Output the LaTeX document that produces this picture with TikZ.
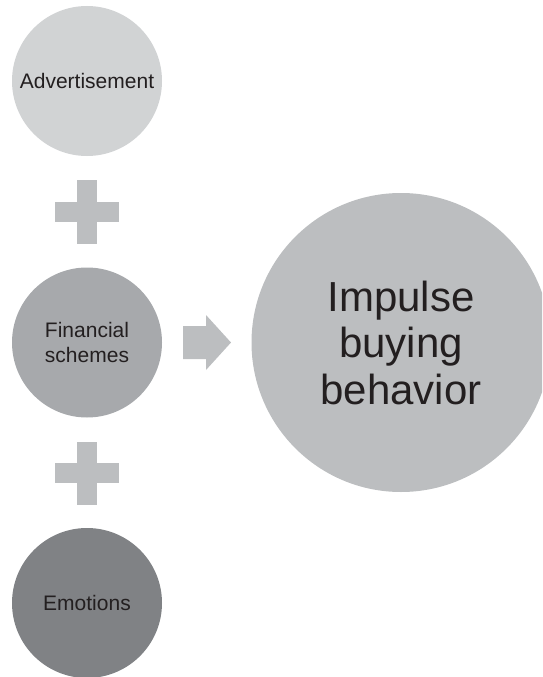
\documentclass[tikz,border=0pt]{standalone}
\usepackage{fontspec}
\setmainfont{Liberation Sans}
\definecolor{textgray}{HTML}{231F20}
\definecolor{adfill}{HTML}{D1D3D4}
\definecolor{finfill}{HTML}{A7A9AC}
\definecolor{emofill}{HTML}{808285}
\definecolor{mainfill}{HTML}{BCBEC0}
\begin{document}
\begin{tikzpicture}[x=1pt,y=-1pt,
  factor/.style={circle, draw=none, inner sep=0pt, minimum size=150pt,
    align=center, text=textgray, font=\fontsize{21}{25}\selectfont},
  outcome/.style={circle, draw=none, inner sep=0pt, minimum size=299pt,
    align=center, text=textgray, fill=mainfill, font=\fontsize{42}{46.5}\selectfont},
  glyph/.style={fill=mainfill}]
\useasboundingbox (0,0) rectangle (542,677);
\clip (0,0) rectangle (542,677);

% the three contributing factors
\node[factor, fill=adfill]  (ad)  at (87,81)    {Advertisement};
\node[factor, fill=finfill] (fin) at (87,342.5) {Financial\\schemes};
\node[factor, fill=emofill] (emo) at (87,603)   {Emotions};

% the resulting behaviour
\node[outcome] (imp) at (401,342.5) {Impulse\\buying\\behavior};

% plus signs between the factors
\fill[glyph] (77,180) rectangle (97,244);
\fill[glyph] (55,202) rectangle (119,222);
\fill[glyph] (77,442) rectangle (97,505);
\fill[glyph] (55,463) rectangle (119,483);

% block arrow towards the outcome
\fill[glyph] (183,326) -- (206,326) -- (206,315) -- (231,342.5)
  -- (206,370) -- (206,359) -- (183,359) -- cycle;
\end{tikzpicture}
\end{document}
